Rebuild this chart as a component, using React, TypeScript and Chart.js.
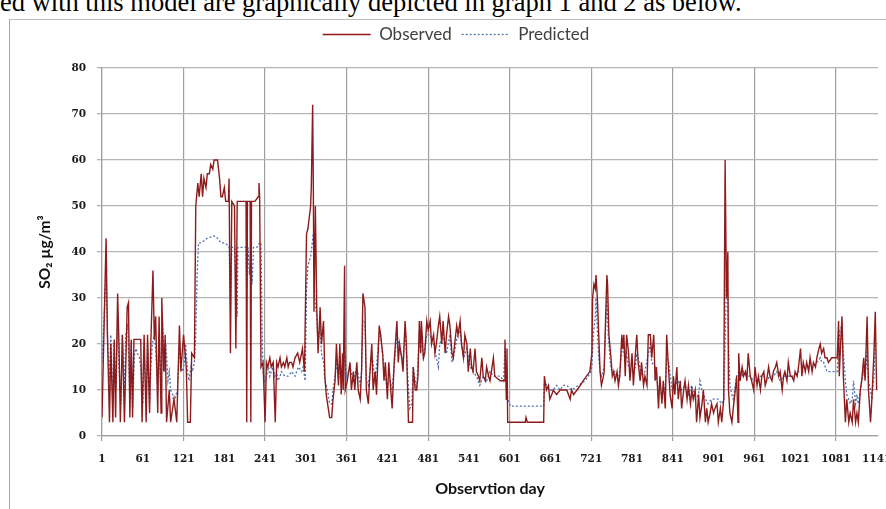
import React, { useEffect, useRef } from "react";
import { Chart, registerables } from "chart.js";

Chart.register(...registerables);

const xTickLabels = [1, 61, 121, 181, 241, 301, 361, 421, 481, 541, 601, 661, 721, 781, 841, 901, 961, 1021, 1081, 1141];
const yTickValues = [0, 10, 20, 30, 40, 50, 60, 70, 80];

const observedDays = [
  1, 7, 9, 12, 14, 17, 19, 21, 24, 26, 28, 31, 34, 38, 40, 42, 44, 46, 48, 58, 60, 63, 66, 68, 71, 73, 76, 78, 80, 83, 85, 88, 89, 92, 94, 96, 100, 102, 107, 111, 115, 117, 121, 125, 127, 131, 133, 137, 139,
  142, 144, 147, 149, 151, 154, 156, 159, 161, 164, 166, 171, 174, 176, 178, 181, 183, 187, 188, 190, 192, 196, 198, 200, 213, 214, 215, 219, 220, 221, 226, 231, 232, 233, 235, 238,
  241, 243, 245, 248, 250, 253, 256, 258, 260, 263, 265, 268, 270, 273, 275, 277, 280, 282, 285, 289, 292, 296, 299, 302, 304, 308, 309, 311, 312, 313, 315, 317, 319, 322, 324, 327, 329, 331, 334, 336, 339,
  341, 344, 346, 349, 351, 353, 355, 356, 358, 359, 362, 366, 368, 371, 373, 376, 378, 381, 383, 385, 388, 390, 393, 395, 398, 400, 403, 405, 409, 411, 414, 416, 418, 421, 423, 426, 428, 431, 435, 437, 439,
  442, 444, 447, 449, 452, 458, 459, 462, 464, 466, 468, 470, 471, 474, 476, 479, 481, 484, 486, 489, 491, 493, 496, 498, 501, 503, 506, 508, 511, 513, 516, 518, 520, 523, 525, 528, 530, 533, 535, 538, 540,
  543, 545, 547, 550, 552, 555, 557, 560, 562, 565, 567, 570, 572, 577, 579, 587, 593, 594, 596, 597, 598, 624, 625, 627, 651, 652, 655, 658, 660, 663, 665, 670, 675, 680, 685, 690, 692, 695, 700, 705, 709,
  714, 719, 722, 723, 725, 727, 728, 730, 732, 734, 736, 739, 740, 742, 744, 745, 747, 750, 752, 754, 756, 759, 761, 763, 766, 767, 769, 771, 773, 776, 778, 781, 783, 786, 788, 790, 793, 795, 798, 800,
  803, 805, 808, 810, 813, 815, 817, 820, 822, 825, 827, 830, 832, 835, 837, 840, 842, 844, 847, 849, 852, 854, 857, 859, 862, 864, 867, 869, 871, 874, 876, 879, 881, 884, 886, 889, 891, 893, 896, 898,
  901, 903, 906, 908, 911, 913, 916, 918, 920, 922, 923, 925, 928, 930, 933, 935, 937, 938, 940, 943, 945, 948, 950, 952, 955, 957, 960, 962, 965, 967, 970, 972, 975, 977, 979, 982, 984, 987, 989, 992,
  994, 997, 999, 1002, 1004, 1006, 1009, 1011, 1014, 1016, 1019, 1021, 1024, 1026, 1029, 1031, 1033, 1036, 1038, 1041, 1043, 1046, 1048, 1051, 1053, 1056, 1058, 1060, 1063, 1065, 1068, 1070, 1075, 1083,
  1085, 1086, 1088, 1090, 1092, 1095, 1097, 1100, 1102, 1105, 1107, 1110, 1112, 1114, 1117, 1119, 1122, 1124, 1127, 1129, 1132, 1134, 1137, 1139, 1141,
];
const observedValues = [
  4, 43, 22, 3, 20, 3, 21, 4, 31, 20, 3, 22, 3, 28, 29, 4, 21, 4, 21, 21, 3, 22, 3, 22, 5, 21, 36, 21, 26, 5, 26, 5, 30, 14, 22, 3, 10, 3, 8, 3, 24, 14, 22, 15, 3, 3, 18, 17, 50,
  55, 52, 57, 52, 56, 54, 57, 57, 59, 58, 60, 60, 56, 52, 52, 54, 51, 51, 56, 18, 51, 50, 19, 51, 51, 3, 51, 51, 3, 51, 51, 52, 55, 52, 15, 16,
  3, 16, 15, 17, 15, 16, 3, 16, 15, 17, 15, 16, 15, 17, 15, 16, 16, 15, 17, 18, 16, 19, 14, 44, 45, 50, 54, 72, 54, 27, 50, 28, 18, 28, 20, 25, 13, 9, 6, 4, 4,
  8, 12, 20, 11, 20, 9, 18, 10, 37, 10, 12, 16, 10, 14, 10, 16, 10, 8, 14, 31, 28, 10, 7, 13, 20, 10, 14, 9, 24, 22, 18, 12, 16, 8, 16, 10, 6, 16, 25, 16, 20,
  17, 14, 25, 20, 3, 3, 15, 10, 10, 13, 25, 18, 25, 17, 18, 25, 23, 25, 20, 22, 18, 20, 24, 26, 20, 25, 18, 22, 26, 24, 18, 17, 20, 24, 22, 25, 20, 17, 22, 20, 14,
  19, 15, 14, 19, 14, 13, 12, 17, 13, 12, 15, 13, 12, 17, 13, 12, 12, 21, 8, 19, 3, 3, 4, 3, 3, 13, 10, 11, 8, 9, 10, 9, 10, 10, 10, 8, 10, 9, 10, 11, 12,
  13, 14, 18, 30, 33, 32, 35, 30, 22, 14, 11, 13, 14, 25, 35, 33, 22, 17, 13, 14, 12, 14, 11, 13, 22, 19, 22, 13, 22, 18, 12, 18, 11, 18, 22, 16, 12, 16, 11, 13,
  11, 22, 22, 17, 22, 12, 15, 6, 13, 7, 12, 6, 22, 14, 9, 6, 13, 9, 15, 8, 12, 6, 10, 12, 8, 11, 7, 10, 8, 10, 3, 9, 4, 7, 10, 3, 6, 3, 5, 7,
  5, 6, 7, 3, 6, 3, 8, 60, 30, 40, 10, 5, 3, 6, 10, 13, 3, 18, 12, 15, 13, 14, 12, 18, 13, 12, 10, 15, 11, 13, 10, 13, 14, 11, 12, 15, 13, 12, 14, 15,
  16, 13, 14, 10, 13, 14, 12, 16, 13, 13, 12, 14, 13, 15, 19, 13, 16, 14, 16, 14, 17, 14, 16, 15, 17, 19, 20, 18, 19, 17, 17, 16, 17, 17,
  25, 13, 20, 26, 13, 3, 8, 3, 5, 3, 8, 3, 5, 3, 10, 12, 17, 12, 26, 10, 3, 8, 18, 27, 10,
];

const predictedDays = [
  1, 7, 9, 12, 14, 17, 19, 21, 24, 26, 29, 31, 34, 36, 39, 42, 44, 46, 49, 51, 53, 56, 58, 61, 63, 66, 68, 71, 73, 75, 78, 80, 83, 85, 88, 90, 93, 95, 98, 100, 102, 105, 107, 110, 112, 115, 117, 120, 122, 124,
  127, 129, 132, 134, 137, 139, 141, 143, 147, 156, 166, 171, 176, 181, 186, 188, 190, 192, 196, 200, 201, 213, 214, 216, 218, 220, 222, 224, 229, 233, 235, 237, 238,
  241, 243, 246, 248, 250, 253, 255, 258, 260, 263, 265, 270, 275, 280, 285, 290, 295, 297, 300, 302, 304, 308, 312, 314, 317, 319, 322, 324, 327, 329, 331, 334, 336, 339,
  341, 344, 346, 349, 351, 354, 356, 358, 361, 366, 371, 376, 381, 383, 385, 388, 390, 393, 398, 403, 409, 411, 415, 420, 425, 428, 435, 439, 444, 447, 449, 452, 454, 457, 459, 464, 468, 471, 474, 479,
  484, 489, 493, 496, 498, 503, 508, 513, 516, 518, 523, 528, 533, 538, 543, 547, 552, 557, 562, 567, 572, 577, 582, 587, 592, 594, 597, 598, 602, 651, 652, 656, 660, 665, 670, 675, 680, 685, 692, 702, 712,
  719, 722, 724, 727, 728, 730, 732, 734, 736, 740, 744, 746, 749, 751, 756, 761, 766, 768, 771, 773, 776, 781, 786, 788, 790, 795, 800, 805, 808, 810, 815, 820, 825, 830, 832, 835, 840, 844, 849,
  854, 859, 864, 869, 874, 879, 881, 884, 889, 893, 898, 903, 908, 913, 916, 918, 920, 922, 923, 925, 928, 930, 933, 935, 938, 940, 943, 945, 950, 955, 960, 965, 970, 975, 979, 984, 989, 994, 999,
  1004, 1009, 1014, 1019, 1024, 1029, 1033, 1038, 1043, 1048, 1053, 1058, 1060, 1063, 1068, 1073, 1078, 1083, 1085, 1087, 1090, 1092, 1095, 1097, 1100, 1102, 1105, 1107, 1110, 1112, 1114, 1117, 1119,
  1122, 1124, 1127, 1129, 1132, 1134, 1137, 1139, 1141,
];
const predictedValues = [
  16, 35, 22, 12, 22, 8, 20, 10, 25, 15, 7, 22, 10, 22, 24, 8, 20, 6, 18, 19, 18, 17, 15, 7, 18, 8, 20, 7, 15, 20, 22, 19, 10, 22, 8, 25, 14, 20, 12, 14, 10, 9, 7, 9, 10, 20, 15, 14, 16, 20,
  14, 12, 15, 14, 16, 22, 35, 42, 42, 43, 43.5, 43, 42, 42, 41.5, 41, 28, 41, 41, 26, 41, 41, 32, 41, 35, 41, 33, 41, 41, 42, 42, 20, 14,
  12, 13, 15, 13, 14, 15, 13, 14, 12, 13, 14, 13, 13, 14, 13, 15, 14, 15, 12, 32, 37, 39, 44, 30, 26, 20, 24, 18, 16, 12, 11, 9, 7, 7,
  10, 13, 16, 12, 16, 13, 15, 18, 13, 15, 12, 15, 11, 14, 25, 25, 12, 11, 18, 12, 22, 22, 16, 11, 12, 10, 22, 19, 16, 23, 18, 10, 6, 7, 15, 10, 22, 20, 17, 22,
  22, 20, 17, 15, 20, 22, 18, 22, 16, 17, 21, 23, 17, 19, 15, 14, 13, 11, 13, 12, 14, 13, 13, 13, 12, 19, 13, 8, 6.5, 6.5, 11.5, 11, 10, 10, 11, 10, 11, 11, 10, 11, 12,
  13.5, 15, 22, 26, 30, 23, 17, 14, 13, 15, 30, 22, 16, 14, 14, 12, 18, 20, 16, 18, 15, 14, 15, 18, 17, 13, 14, 18, 20, 16, 15, 10, 9, 11, 17, 16, 10, 11, 12,
  10, 11, 9, 11, 8, 9, 12, 10, 8, 7, 8, 8, 8, 7, 8, 20, 35, 30, 20, 11, 9, 8, 11, 13, 14, 14, 13, 14, 13, 13, 12, 12, 13, 13, 12, 13, 13, 14, 12,
  13, 13, 13, 13, 14, 14, 14, 15, 15, 15, 16, 17, 16, 16, 14, 14, 14, 14, 20, 23, 24, 18, 12, 9, 8, 7, 8, 12, 7, 9, 7, 10, 12,
  14, 13, 19, 12, 10, 8, 13, 20, 20,
];

const GRID_V = "#9e9e9e";
const GRID_H = "#b5b5b5";

export default function App() {
  const canvasRef = useRef<HTMLCanvasElement | null>(null);

  useEffect(() => {
    const canvas = canvasRef.current;
    if (!canvas) return;
    const legendSpacer = {
      id: "legendSpacer",
      beforeInit(chart: any) {
        const legend = chart.legend;
        if (!legend) return;
        const originalFit = legend.fit;
        legend.fit = function fit() {
          originalFit.call(this);
          this.height += 15;
        };
      },
      afterLayout(chart: any) {
        if (chart.legend) {
          chart.legend.left += 34;
        }
      },
    };
    const defaultLabels = (Chart.defaults.plugins.legend.labels as any).generateLabels;
    const chart = new Chart(canvas, {
      type: "line",
      data: {
        datasets: [
          {
            label: "Observed",
            data: observedDays.map((d, i) => ({ x: d, y: observedValues[i] })),
            borderColor: "#8e1b1b",
            backgroundColor: "#8e1b1b",
            borderWidth: 1.4,
            pointRadius: 0,
            tension: 0,
          },
          {
            label: "Predicted",
            data: predictedDays.map((d, i) => ({ x: d, y: predictedValues[i] })),
            borderColor: "#4a70b0",
            backgroundColor: "#4a70b0",
            borderWidth: 1.3,
            borderDash: [2, 2],
            pointRadius: 0,
            tension: 0,
          },
        ],
      },
      plugins: [legendSpacer],
      options: {
        responsive: false,
        animation: false,
        events: [],
        layout: { padding: { left: 0, right: 8, top: 16, bottom: 0 } },
        plugins: {
          tooltip: { enabled: false },
          legend: {
            position: "top",
            align: "center",
            labels: {
              usePointStyle: true,
              pointStyle: "line",
              pointStyleWidth: 48,
              boxHeight: 13,
              padding: 10,
              color: "#404040",
              font: { family: "Lato", size: 17 },
              generateLabels: (c: any) =>
                defaultLabels(c).map((item: any) => {
                  const ds = c.data.datasets[item.datasetIndex];
                  return {
                    ...item,
                    lineDash: ds.borderDash || [],
                    lineWidth: ds.borderWidth,
                    strokeStyle: ds.borderColor,
                  };
                }),
            },
          },
        },
        scales: {
          x: {
            type: "linear",
            min: 1,
            max: 1143,
            afterBuildTicks: (scale: any) => {
              scale.ticks = xTickLabels.map((v) => ({ value: v }));
            },
            afterFit: (scale: any) => {
              scale.height = 73;
              scale.paddingLeft = 0;
              scale.paddingRight = 0;
            },
            ticks: {
              autoSkip: false,
              maxRotation: 0,
              minRotation: 0,
              padding: 12,
              color: "#1a1a1a",
              font: { family: "'DejaVu Serif'", size: 10.5, weight: "bold" },
              callback: (v: any) => String(v),
            },
            grid: {
              color: (ctx: any) => (ctx.index % 2 === 0 ? GRID_V : "rgba(0,0,0,0)"),
              lineWidth: 1.2,
              tickLength: 5,
            },
            border: { color: GRID_V, width: 1.2 },
            title: {
              display: true,
              text: "Observtion day",
              color: "#111",
              font: { family: "Lato", size: 16, weight: "bold" },
              padding: { top: 0, bottom: 11 },
            },
          },
          y: {
            min: 0,
            max: 80,
            afterBuildTicks: (scale: any) => {
              scale.ticks = yTickValues.map((v) => ({ value: v }));
            },
            afterFit: (scale: any) => {
              scale.width = 102;
              scale.paddingTop = 0;
              scale.paddingBottom = 0;
            },
            ticks: {
              padding: 11,
              color: "#1a1a1a",
              font: { family: "'DejaVu Serif'", size: 10.5, weight: "bold" },
              callback: (v: any) => String(v),
            },
            grid: { color: GRID_H, lineWidth: 1.3, tickLength: 5 },
            border: { color: GRID_V, width: 1.2 },
            title: {
              display: true,
              text: "SO\u2082 \u00b5g/m\u00b3",
              color: "#111",
              font: { family: "Lato", size: 15.5, weight: "bold" },
              padding: { top: 36, bottom: 0 },
            },
          },
        },
      } as any,
    });
    return () => chart.destroy();
  }, []);

  return (
    <div
      style={{
        position: "fixed",
        left: 0,
        top: 0,
        width: 886,
        height: 509,
        overflow: "hidden",
        background: "#ffffff",
      }}
    >
      <div
        style={{
          position: "absolute",
          left: 0,
          top: -11,
          whiteSpace: "nowrap",
          fontFamily: "'Liberation Serif', serif",
          fontSize: 26.5,
          lineHeight: "26.5px",
          color: "#000",
        }}
      >
        ed with this model are graphically depicted in graph 1 and 2 as below.
      </div>
      <div
        style={{
          position: "absolute",
          left: 9,
          top: 19,
          width: 900,
          height: 520,
          borderLeft: "1px solid #a8a8a8",
          borderTop: "1px solid #bdbdbd",
        }}
      />
      <canvas
        ref={canvasRef}
        width={886}
        height={509}
        style={{ position: "absolute", left: 0, top: 0, width: 886, height: 509 }}
      />
    </div>
  );
}
